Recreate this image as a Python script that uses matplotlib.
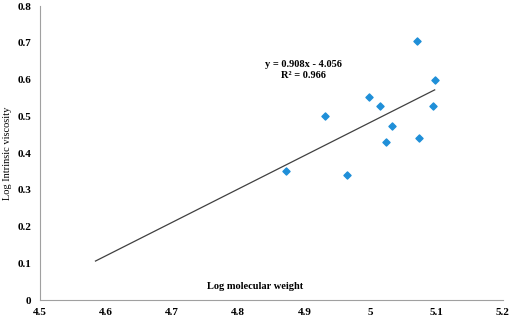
import numpy as np
import matplotlib
matplotlib.use("Agg")
from matplotlib import pyplot as plt

# data
log_mw = [4.931, 4.997, 5.014, 5.032, 5.023, 5.070, 5.097, 5.095, 5.073, 4.872, 4.965]
log_visc = [0.500, 0.552, 0.528, 0.473, 0.429, 0.704, 0.600, 0.528, 0.441, 0.350, 0.341]

slope = 0.908
intercept = -4.056
trend_x = [4.584, 5.097]

x_ticks = [4.5, 4.6, 4.7, 4.8, 4.9, 5.0, 5.1, 5.2]
x_tick_labels = ["4.5", "4.6", "4.7", "4.8", "4.9", "5", "5.1", "5.2"]
y_ticks = [0, 0.1, 0.2, 0.3, 0.4, 0.5, 0.6, 0.7, 0.8]
y_tick_labels = ["0", "0.1", "0.2", "0.3", "0.4", "0.5", "0.6", "0.7", "0.8"]

plt.rcParams['font.family'] = ['Liberation Serif', 'DejaVu Serif']

fig = plt.figure(figsize=(5.12, 3.22), dpi=100)
ax = fig.add_axes([0.078, 0.068, 0.904, 0.913])

tx = np.array(trend_x)
ax.plot(tx, slope * tx + intercept, color='#404040', lw=0.9)
ax.scatter(log_mw, log_visc, marker='D', s=13, color='#1f8fd8', zorder=3)

ax.set_xlim(4.5, 5.2)
ax.set_ylim(0, 0.8)
ax.set_xticks(x_ticks)
ax.set_xticklabels(x_tick_labels, fontsize=8, fontweight='bold')
ax.set_yticks(y_ticks)
ax.set_yticklabels(y_tick_labels, fontsize=8, fontweight='bold')
ax.tick_params(length=0, pad=6)

for side in ['top', 'right']:
    ax.spines[side].set_visible(False)
for side in ['left', 'bottom']:
    ax.spines[side].set_color('#a0a0a0')
    ax.spines[side].set_linewidth(0.8)

ax.text(4.826, 0.025, "Log molecular weight", fontsize=7.5, fontweight='bold', ha='center', va='bottom')
fig.text(8 / 512, 1 - 153 / 322, "Log Intrinsic viscosity", fontsize=7.5,
         rotation=90, ha='center', va='center')
ax.text(4.899, 0.641, "y = 0.908x - 4.056", fontsize=7.5, fontweight='bold', ha='center', va='center')
ax.text(4.899, 0.612, "R² = 0.966", fontsize=7.5, fontweight='bold', ha='center', va='center')

fig.savefig("out.png", dpi=100)
